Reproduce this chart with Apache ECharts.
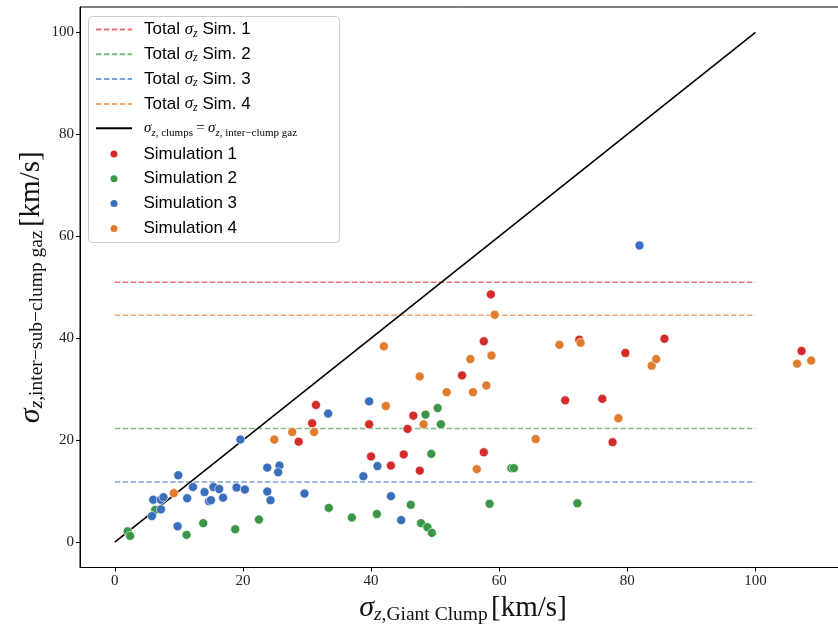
<!DOCTYPE html>
<html>
<head>
<meta charset="utf-8">
<script src="https://cdn.jsdelivr.net/npm/echarts@6/dist/echarts.min.js"></script>
<style>html,body{margin:0;padding:0;background:#fff}#c{width:838px;height:628px}</style>
</head>
<body>
<div id="c"></div>
<script>
// ---- data ----
const xTicks = [0, 20, 40, 60, 80, 100];
const yTicks = [0, 20, 40, 60, 80, 100];
const totalSigma = [51.0, 22.3, 11.8, 44.5]; // Sim 1..4
const lineRange = [0, 100];
const sim1 = [[28.7,19.7],[30.8,23.3],[31.4,26.9],[39.7,23.1],[40.0,16.8],[43.1,15.0],[45.1,17.2],[45.7,22.2],[46.6,24.8],[47.6,14.0],[54.2,32.7],[57.6,39.4],[57.6,17.6],[58.7,48.6],[70.3,27.8],[72.5,39.7],[76.1,28.1],[77.7,19.6],[79.7,37.1],[85.8,39.9],[107.2,37.5]];
const sim2 = [[2.0,2.1],[2.4,1.2],[6.3,6.3],[11.2,1.4],[13.8,3.7],[18.8,2.5],[22.5,4.4],[33.4,6.7],[37.0,4.8],[40.9,5.5],[46.2,7.3],[47.8,3.7],[48.8,2.9],[49.5,1.8],[48.5,25.0],[50.4,26.3],[50.9,23.1],[49.4,17.3],[58.5,7.5],[61.9,14.5],[62.3,14.5],[72.2,7.6]];
const sim3 = [[5.8,5.1],[6.0,8.3],[7.2,8.3],[7.6,8.8],[7.2,6.4],[9.8,3.1],[9.9,13.1],[11.3,8.6],[12.2,10.8],[14.0,9.8],[14.7,8.0],[15.0,8.2],[15.4,10.8],[16.3,10.4],[16.9,8.7],[19.0,10.7],[20.3,10.3],[19.6,20.1],[23.8,14.6],[25.7,15.0],[25.5,13.7],[23.8,9.9],[24.3,8.2],[29.6,9.5],[33.3,25.2],[39.7,27.6],[41.0,14.9],[38.8,12.9],[43.1,9.0],[44.7,4.3],[81.9,58.2]];
const sim4 = [[9.2,9.6],[24.9,20.1],[27.7,21.6],[31.1,21.6],[42.0,38.4],[42.3,26.7],[47.6,32.5],[48.2,23.1],[51.8,29.4],[55.5,35.9],[55.9,29.4],[56.5,14.3],[58.0,30.7],[58.8,36.6],[59.3,44.6],[65.7,20.2],[69.4,38.7],[72.7,39.1],[78.6,24.3],[83.8,34.6],[84.5,35.9],[106.5,35.0],[108.7,35.6]];
const simNames = ['Simulation 1', 'Simulation 2', 'Simulation 3', 'Simulation 4'];
const totalNames = ['Total Sim. 1', 'Total Sim. 2', 'Total Sim. 3', 'Total Sim. 4'];
const identityName = 'identity';
const colors = ['#d42a2b', '#3b9648', '#3a6dbb', '#e07c2e'];

// ---- chart ----
const serif = 'Liberation Serif';
const sans = 'Liberation Sans';
const chart = echarts.init(document.getElementById('c'), null, {renderer: 'canvas'});

const series = [];
totalSigma.forEach((v, i) => {
  series.push({
    name: totalNames[i], type: 'line', symbol: 'none', z: 1,
    data: lineRange.map(x => [x, v]),
    lineStyle: {color: colors[i], width: 1.5, type: [5.5, 2.4], opacity: 0.65},
    itemStyle: {color: colors[i]},
    silent: true
  });
});
series.push({
  name: identityName, type: 'line', symbol: 'none', z: 2,
  data: lineRange.map(x => [x, x]),
  lineStyle: {color: '#000', width: 1.6},
  itemStyle: {color: '#000'},
  silent: true
});
[sim1, sim2, sim3, sim4].forEach((d, i) => {
  series.push({
    name: simNames[i], type: 'scatter', symbolSize: 9, z: 3,
    data: d,
    itemStyle: {color: colors[i], opacity: 1, borderColor: '#fff', borderWidth: 0.6}
  });
});

const subRich = {
  t: {fontFamily: sans, fontSize: 17, color: '#000', lineHeight: 20, verticalAlign: 'middle'},
  tp: {fontFamily: sans, fontSize: 17, color: '#000', lineHeight: 20, verticalAlign: 'middle', padding: [0, 0, 0, 20]},
  m: {fontFamily: serif, fontStyle: 'italic', fontSize: 17, color: '#000', lineHeight: 20, verticalAlign: 'middle'},
  sb: {fontFamily: serif, fontStyle: 'italic', fontSize: 12, color: '#000', lineHeight: 12, verticalAlign: 'bottom'},
  ms: {fontFamily: serif, fontStyle: 'italic', fontSize: 15, color: '#000', lineHeight: 20, verticalAlign: 'middle'},
  eq: {fontFamily: serif, fontSize: 15, color: '#000', lineHeight: 20, verticalAlign: 'middle'},
  rs: {fontFamily: serif, fontSize: 11, color: '#000', lineHeight: 12, verticalAlign: 'bottom'},
  zs: {fontFamily: serif, fontStyle: 'italic', fontSize: 11, color: '#000', lineHeight: 12, verticalAlign: 'bottom'}
};

const axisNameRich = {
  s: {fontFamily: serif, fontStyle: 'italic', fontSize: 30, lineHeight: 32, verticalAlign: 'middle', color: '#111'},
  sub: {fontFamily: serif, fontStyle: 'italic', fontSize: 19.5, lineHeight: 19, verticalAlign: 'bottom', color: '#111'},
  sr: {fontFamily: serif, fontSize: 19.5, lineHeight: 19, verticalAlign: 'bottom', color: '#111'},
  u: {fontFamily: serif, fontSize: 29, lineHeight: 32, verticalAlign: 'middle', color: '#111'}
};

const option = {
  animation: false,
  backgroundColor: '#fff',
  grid: {left: 80, top: 7, width: 766, height: 560.5, outerBoundsMode: 'none', containLabel: false,
         show: true, borderColor: '#000', borderWidth: 1, backgroundColor: 'transparent'},
  xAxis: {
    type: 'value', min: -5.435, max: 114.135,
    splitLine: {show: false},
    axisLine: {onZero: false, lineStyle: {color: '#000', width: 1}},
    axisTick: {show: true, length: 4, lineStyle: {color: '#000'}, customValues: xTicks},
    axisLabel: {fontFamily: serif, fontSize: 15, color: '#222', margin: 6, customValues: xTicks},
    name: '{s|σ}{sub|z}{sr|,Giant Clump} {u|[km/s]}',
    nameLocation: 'middle', nameGap: 25, nameMoveOverlap: false,
    nameTextStyle: {rich: axisNameRich}
  },
  yAxis: {
    type: 'value', min: -5, max: 105,
    splitLine: {show: false},
    axisLine: {onZero: false, lineStyle: {color: '#000', width: 1}},
    axisTick: {show: true, length: 4, lineStyle: {color: '#000'}, customValues: yTicks},
    axisLabel: {fontFamily: serif, fontSize: 15, color: '#222', margin: 6, customValues: yTicks},
    name: '{s|σ}{sub|z}{sr|,inter−sub−clump gaz} {u|[km/s]}',
    nameLocation: 'middle', nameGap: 33, nameRotate: 90, nameMoveOverlap: false,
    nameTextStyle: {rich: axisNameRich}
  },
  legend: [
    {
      data: totalNames.concat([identityName]),
      orient: 'vertical', left: 95, top: 21, padding: 0,
      itemWidth: 36, itemHeight: 20, itemGap: 6.3,
      selectedMode: false,
      itemStyle: {opacity: 0, color: 'rgba(0,0,0,0)', borderWidth: 0},
      formatter: function (name) {
        if (name === identityName) {
          return '{ms|σ}{zs|z}{rs|, clumps} {eq|=} {ms|σ}{zs|z}{rs|, inter−clump gaz}';
        }
        const n = name.replace('Total ', '');
        return '{t|Total }{m|σ}{sb|z}{t| ' + n + '}';
      },
      textStyle: {padding: [0, 0, 0, 7], rich: subRich}
    },
    {
      data: simNames,
      orient: 'vertical', left: 108.5, top: 144, padding: 0,
      itemWidth: 9, itemHeight: 9, itemGap: 4.8,
      selectedMode: false,
      formatter: function (name) { return '{tp|' + name + '}'; },
      textStyle: {rich: subRich, lineHeight: 20}
    }
  ],
  graphic: [{
    type: 'rect', left: 88, top: 16, z: 0, zlevel: 0,
    shape: {width: 251, height: 226, r: 4},
    style: {fill: 'rgba(255,255,255,0.8)', stroke: '#cccccc', lineWidth: 1}
  }],
  series: series
};
chart.setOption(option);
</script>
</body>
</html>
